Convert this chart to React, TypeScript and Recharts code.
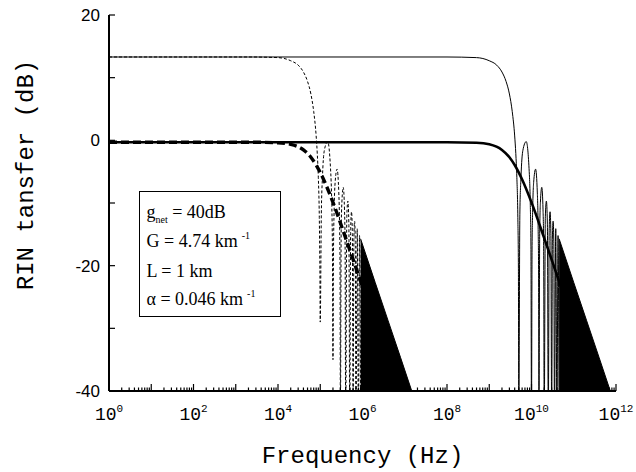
import React from 'react';
import { ComposedChart, Line, Area, XAxis, YAxis } from 'recharts';

const mono = "'Liberation Mono', 'Courier New', monospace";

// thin solid: gain curve of the long cavity (Hz / dB)
const thinFreq = [
  1, 1e8, 5e8, 1e9, 1.5e9, 2e9, 2.5e9, 3e9, 3.5e9, 4e9, 4.25e9, 4.5e9, 4.75e9, 4.9e9, 5e9,
  5.3e9, 5.625e9, 6.25e9, 7.5e9, 8.75e9, 9.375e9, 9.7e9, 1e10,
  1.03e10, 1.0625e10, 1.125e10, 1.25e10, 1.375e10, 1.4375e10, 1.47e10, 1.5e10,
  1.5625e10, 1.625e10, 1.75e10, 1.875e10, 1.9375e10, 2e10,
  2.125e10, 2.25e10, 2.375e10, 2.5e10,
  2.625e10, 2.75e10, 2.875e10, 3e10,
  3.125e10, 3.25e10, 3.375e10, 3.5e10,
  3.75e10, 4e10,
  4.25e10, 4.5e10,
];
const thinDb = [
  13.3, 13.3, 13.2, 12.7, 12.0, 10.9, 9.4, 7.4, 4.6, 0.7, -2.1, -5.9, -12.3, -20.5, -45,
  -11.8, -6.0, -1.6, -0.2, -4.5, -10.4, -17.0, -45,
  -17.5, -11.5, -6.7, -4.6, -8.4, -14.2, -20.6, -45,
  -14.9, -9.9, -7.5, -11.1, -16.8, -45,
  -12.2, -9.7, -13.2, -45,
  -14.1, -11.4, -14.9, -45,
  -15.6, -12.9, -16.2, -45,
  -14.1, -45,
  -15.2, -45,
];

// thin dashed: same shape, short cavity
const dashFreq = [
  1, 2e3, 1e4, 2e4, 3e4, 4e4, 5e4, 6e4, 7e4, 8e4, 8.5e4, 9e4, 9.5e4, 9.8e4, 1e5,
  1.06e5, 1.125e5, 1.25e5, 1.5e5, 1.75e5, 1.875e5, 1.94e5, 2e5,
  2.06e5, 2.125e5, 2.25e5, 2.5e5, 2.75e5, 2.875e5, 2.94e5, 3e5,
  3.125e5, 3.25e5, 3.5e5, 3.75e5, 3.875e5, 4e5,
  4.25e5, 4.5e5, 4.75e5, 5e5,
  5.25e5, 5.5e5, 5.75e5, 6e5,
  6.25e5, 6.5e5, 6.75e5, 7e5,
  7.5e5, 8e5,
  8.5e5, 9e5,
];
const dashDb = [
  13.3, 13.3, 13.2, 12.7, 12.0, 10.9, 9.4, 7.4, 4.6, 0.7, -2.1, -5.9, -12.3, -20.5, -29,
  -11.8, -6.0, -1.6, -0.2, -4.5, -10.4, -17.0, -35,
  -17.5, -11.5, -6.7, -4.6, -8.4, -14.2, -20.6, -45,
  -14.9, -9.9, -7.5, -11.1, -16.8, -45,
  -12.2, -9.7, -13.2, -45,
  -14.1, -11.4, -14.9, -45,
  -15.6, -12.9, -16.2, -45,
  -14.1, -45,
  -15.2, -45,
];

// dense ripple regions (upper envelope)
const thinDenseFreq = [4.5e10, 1e11, 2e11, 4e11, 7.5e11];
const dashDenseFreq = [9e5, 2e6, 4e6, 8e6, 1.5e7];
const denseDb = [-15.7, -22.7, -28.7, -34.7, -40.2];

// thick curves
const thickFreq = [1, 1e8, 5e8, 1e9, 2e9, 3e9, 4e9, 6e9, 1e10, 2e10, 5e10, 1e11, 2e11, 4e11];
const thickDashFreq = [1, 2e3, 1e4, 2e4, 4e4, 6e4, 8e4, 1.2e5, 2e5, 4e5, 1e6, 2e6, 4e6, 8e6];
const thickDb = [-0.3, -0.3, -0.39, -0.64, -1.53, -2.69, -3.93, -6.25, -9.9, -15.6, -23.4, -29.4, -35.4, -41.5];

const majorX = [1, 1e1, 1e2, 1e3, 1e4, 1e5, 1e6, 1e7, 1e8, 1e9, 1e10, 1e11, 1e12];
const minorMult = [2, 3, 4, 5, 6, 7, 8, 9];
const xTicks = [...majorX, ...majorX.slice(0, -1).flatMap((d) => minorMult.map((m) => m * d))].sort((a, b) => a - b);
const yTicks = [-40, -30, -20, -10, 0, 10, 20];

const rows = (freq: number[], db: number[]) => freq.map((f, i) => ({ f, db: db[i] }));

const isDecade = (v: number) => {
  const e = Math.log10(v);
  return Math.abs(e - Math.round(e)) < 1e-6;
};

const XTick = (p: any) => {
  const { x, y, payload, top } = p;
  const v = payload.value;
  const dec = isDecade(v);
  const e = Math.round(Math.log10(v));
  const len = dec ? 7 : 3.5;
  return (
    <g>
      <line x1={x} x2={x} y1={y} y2={top ? y + len : y - len} stroke="#000" strokeWidth={1.2} />
      {!top && dec && e % 2 === 0 && (
        <text x={x} y={y + 29} textAnchor="middle" fontFamily={mono} fontSize={18} fill="#000">
          10<tspan dy={-8} fontSize={11}>{e}</tspan>
        </text>
      )}
    </g>
  );
};

const YTick = (p: any) => {
  const { x, y, payload, right } = p;
  const v = payload.value;
  return (
    <g>
      <line x1={x} x2={right ? x - 6 : x + 6} y1={y} y2={y} stroke="#000" strokeWidth={1.2} />
      {!right && v % 20 === 0 && (
        <text x={x - 9} y={y + 6} textAnchor="end" fontFamily="'Liberation Sans', Arial, sans-serif" fontSize={17} fill="#000">
          {v}
        </text>
      )}
    </g>
  );
};

const sup: React.CSSProperties = { fontSize: 10, position: 'relative', top: -8, marginLeft: 4 };

export default function App() {
  return (
    <div style={{ position: 'absolute', left: 0, top: 0, width: 636, height: 472, background: '#fff' }}>
      <ComposedChart width={636} height={472} margin={{ top: 15, right: 20, bottom: 0, left: 0 }}>
        <XAxis
          xAxisId={0}
          dataKey="f"
          type="number"
          scale="log"
          domain={[1, 1e12]}
          allowDataOverflow
          ticks={xTicks}
          interval={0}
          tickSize={0}
          tickMargin={0}
          tickLine={false}
          height={81}
          axisLine={{ stroke: '#000', strokeWidth: 2 }}
          tick={(p: any) => <XTick {...p} />}
          label={{ value: 'Frequency (Hz)', position: 'insideBottom', offset: 9, fill: '#000', fontSize: 24, fontFamily: mono }}
        />
        <XAxis
          xAxisId="top"
          orientation="top"
          dataKey="f"
          type="number"
          scale="log"
          domain={[1, 1e12]}
          allowDataOverflow
          ticks={xTicks}
          interval={0}
          tickSize={0}
          tickMargin={0}
          tickLine={false}
          height={0}
          axisLine={{ stroke: '#000', strokeWidth: 2 }}
          tick={(p: any) => <XTick {...p} top />}
        />
        <YAxis
          yAxisId={0}
          type="number"
          domain={[-40, 20]}
          allowDataOverflow
          ticks={yTicks}
          interval={0}
          tickSize={0}
          tickMargin={0}
          tickLine={false}
          width={109}
          axisLine={{ stroke: '#000', strokeWidth: 2 }}
          tick={(p: any) => <YTick {...p} />}
          label={{ value: 'RIN tansfer (dB)', angle: -90, position: 'center', dx: -30.5, dy: -28, fill: '#000', fontSize: 24, fontFamily: mono }}
        />
        <YAxis
          yAxisId="right"
          orientation="right"
          type="number"
          domain={[-40, 20]}
          allowDataOverflow
          ticks={yTicks}
          interval={0}
          tickSize={0}
          tickMargin={0}
          tickLine={false}
          width={0}
          axisLine={{ stroke: '#000', strokeWidth: 2 }}
          tick={(p: any) => <YTick {...p} right />}
        />
        <Line data={rows(thickFreq, thickDb)} dataKey="db" type="monotone" stroke="#000" strokeWidth={2.6} dot={false} activeDot={false} isAnimationActive={false} />
        <Line data={rows(thickDashFreq, thickDb)} dataKey="db" type="monotone" stroke="#000" strokeWidth={3.4} strokeDasharray="8 4" dot={false} activeDot={false} isAnimationActive={false} />
        <Line data={rows(dashFreq, dashDb)} dataKey="db" type="monotone" stroke="#000" strokeWidth={1} strokeDasharray="3 2" dot={false} activeDot={false} isAnimationActive={false} />
        <Line data={rows(thinFreq, thinDb)} dataKey="db" type="monotone" stroke="#000" strokeWidth={1} dot={false} activeDot={false} isAnimationActive={false} />
        <Area data={rows(dashDenseFreq, denseDb)} dataKey="db" type="linear" baseValue="dataMin" stroke="#000" strokeWidth={1} fill="#000" fillOpacity={1} isAnimationActive={false} dot={false} activeDot={false} />
        <Area data={rows(thinDenseFreq, denseDb)} dataKey="db" type="linear" baseValue="dataMin" stroke="#000" strokeWidth={1} fill="#000" fillOpacity={1} isAnimationActive={false} dot={false} activeDot={false} />
      </ComposedChart>
      <div
        style={{
          position: 'absolute',
          left: 139,
          top: 191,
          width: 142,
          height: 126,
          boxSizing: 'border-box',
          border: '1.5px solid #000',
          background: '#fff',
          paddingLeft: 6.5,
          paddingTop: 6.5,
          fontFamily: "'Liberation Serif', 'Times New Roman', serif",
          fontSize: 18,
          lineHeight: '27.7px',
          color: '#000',
          whiteSpace: 'nowrap',
        }}
      >
        <div>
          g<span style={{ fontSize: 10, position: 'relative', top: 5 }}>net</span> = 40dB
        </div>
        <div>
          G = 4.74 km<span style={sup}>-1</span>
        </div>
        <div>L = 1 km</div>
        <div>
          α = 0.046 km<span style={sup}>-1</span>
        </div>
      </div>
    </div>
  );
}
